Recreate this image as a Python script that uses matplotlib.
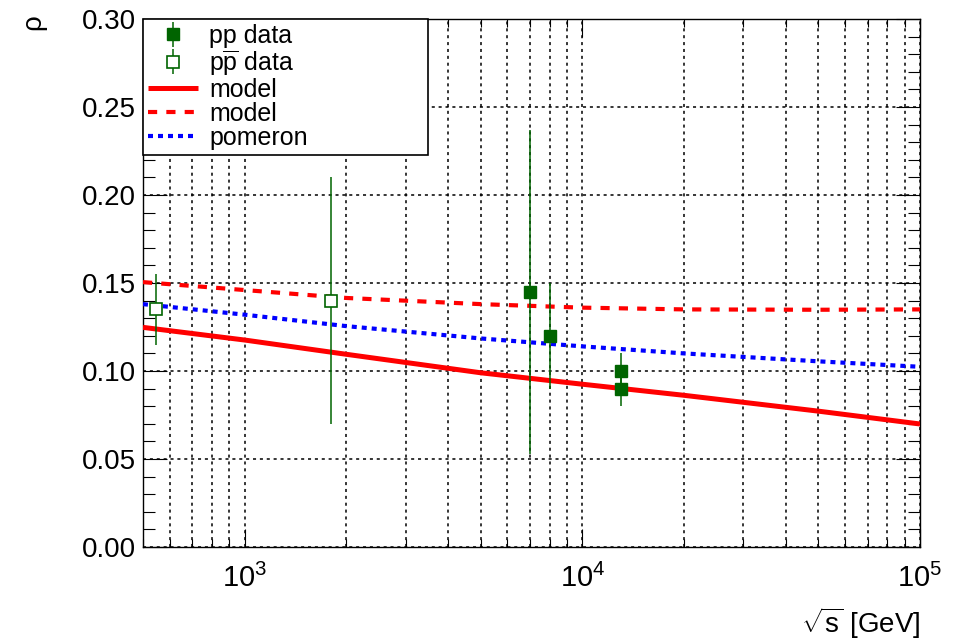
import matplotlib
matplotlib.use('Agg')
import matplotlib.pyplot as plt
from matplotlib.ticker import LogLocator, MultipleLocator, FormatStrFormatter, NullFormatter

plt.rcParams['font.family'] = ['Liberation Sans', 'DejaVu Sans']
plt.rcParams['mathtext.fontset'] = 'custom'
plt.rcParams['mathtext.rm'] = 'Liberation Sans'
plt.rcParams['mathtext.it'] = 'Liberation Sans:italic'
plt.rcParams['mathtext.bf'] = 'Liberation Sans:bold'

# pp data
pp_sqrts = [7000, 8000, 13000, 13000]
pp_rho = [0.145, 0.12, 0.10, 0.09]
pp_err = [0.092, 0.03, 0.01, 0.01]

# p-pbar data
ppbar_sqrts = [546, 1800]
ppbar_rho = [0.135, 0.14]
ppbar_err = [0.02, 0.07]

# curves
curve_sqrts = [500, 1000, 2000, 5000, 10000, 20000, 50000, 100000]
model_solid = [0.1248, 0.1176, 0.1095, 0.099, 0.0925, 0.0862, 0.0772, 0.0699]
model_dashed = [0.1505, 0.146, 0.1415, 0.138, 0.136, 0.135, 0.1348, 0.135]
pomeron = [0.138, 0.132, 0.1255, 0.1185, 0.114, 0.110, 0.1055, 0.1024]

green = '#006400'

fig = plt.figure(figsize=(9.72, 6.41), dpi=100)
ax = fig.add_axes([0.1471, 0.1466, 0.7994, 0.8238])

l1, = ax.plot(curve_sqrts, model_solid, color='red', lw=3.6, solid_capstyle='butt', zorder=3)
l2, = ax.plot(curve_sqrts, model_dashed, color='red', lw=3, ls=(0, (2.2, 2.2)),
              dash_capstyle='butt', zorder=3)
l3, = ax.plot(curve_sqrts, pomeron, color='blue', lw=3, ls=(0, (1.2, 1.2)),
              dash_capstyle='butt', zorder=3)

e1 = ax.errorbar(pp_sqrts, pp_rho, yerr=pp_err, fmt='s', ms=8, color=green,
                 mec=green, mfc=green, elinewidth=1.1, capsize=0, zorder=5)
e2 = ax.errorbar(ppbar_sqrts, ppbar_rho, yerr=ppbar_err, fmt='s', ms=8, color=green,
                 mec=green, mfc='white', mew=1.2, elinewidth=1.1, capsize=0, zorder=5)

ax.set_xscale('log')
ax.set_xlim(500, 1e5)
ax.set_ylim(0, 0.30)

ax.yaxis.set_major_locator(MultipleLocator(0.05))
ax.yaxis.set_minor_locator(MultipleLocator(0.01))
ax.yaxis.set_major_formatter(FormatStrFormatter('%.2f'))
ax.xaxis.set_major_locator(LogLocator(base=10))
ax.xaxis.set_minor_locator(LogLocator(base=10, subs=range(2, 10)))
ax.xaxis.set_minor_formatter(NullFormatter())

ax.tick_params(which='both', direction='in', top=True, right=True, width=0.8)
ax.tick_params(axis='y', which='major', length=17, labelsize=20, pad=5)
ax.tick_params(axis='y', which='minor', length=8.6)
ax.tick_params(axis='x', which='major', length=13, labelsize=21, pad=12)
ax.tick_params(axis='x', which='minor', length=5.8)

grid_style = dict(color='black', ls=(0, (2, 2.5)), lw=1.1)
ax.grid(True, which='major', axis='y', **grid_style)
ax.grid(True, which='both', axis='x', **grid_style)
ax.set_axisbelow(True)
for sp in ax.spines.values():
    sp.set_linewidth(1.0)

leg = ax.legend([e1, e2, l1, l2, l3],
                ['pp data', r'p$\overline{\mathrm{p}}$ data', 'model', 'model', 'pomeron'],
                loc='upper left', bbox_to_anchor=(0, 1, 0.367, 0), mode='expand',
                borderaxespad=0, fancybox=False, edgecolor='black', framealpha=1,
                fontsize=18, handlelength=2.0, handletextpad=0.45, labelspacing=0.0,
                borderpad=0.2)
leg.get_frame().set_linewidth(1.2)
leg.set_zorder(10)

fig.text(33 / 972, 1 - 22 / 641, 'ρ', rotation=90, fontsize=20, ha='center', va='center')
fig.text(920 / 972, 1 - 633 / 641, r'$\sqrt{\mathrm{s}}$ [GeV]', ha='right', va='baseline',
         fontsize=20)

fig.savefig('out.png', dpi=100)
